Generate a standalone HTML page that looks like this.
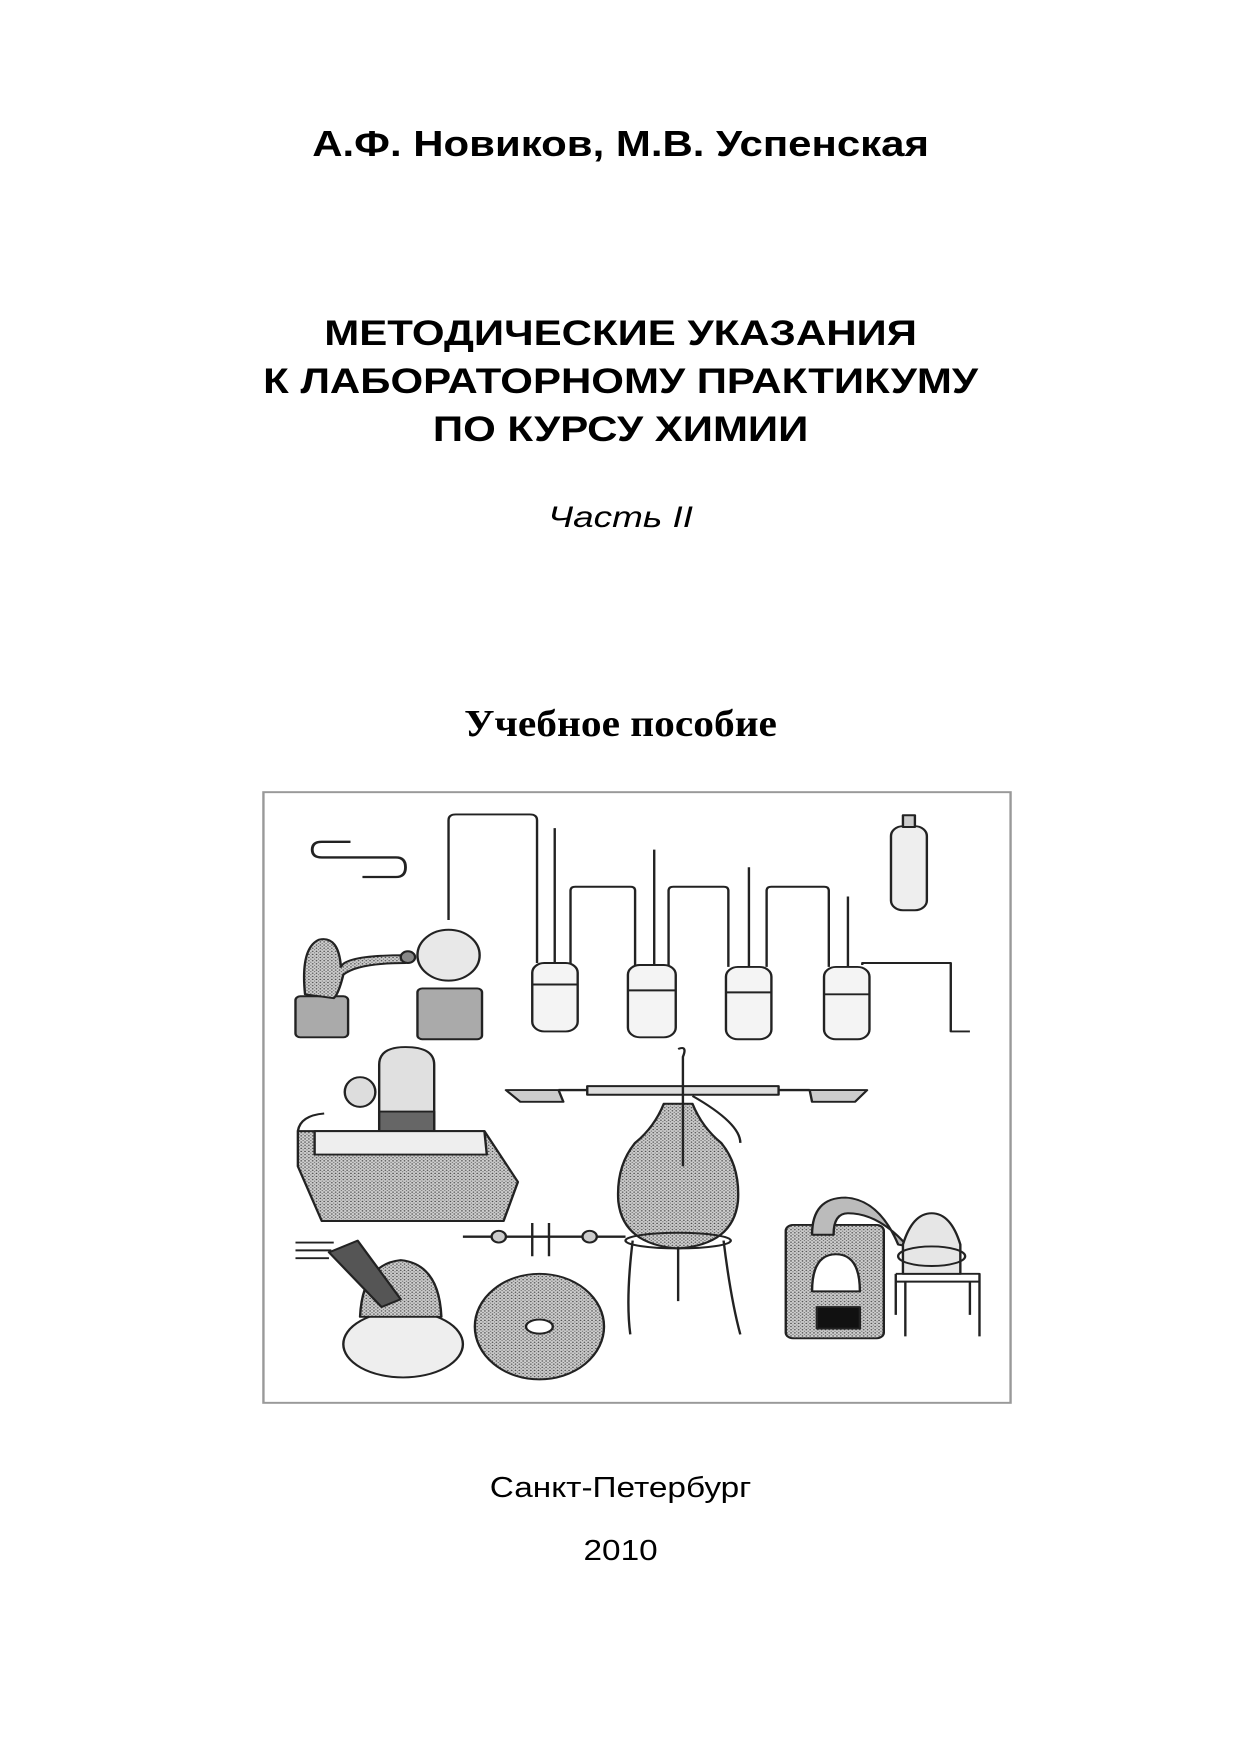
<!DOCTYPE html>
<html><head><meta charset="utf-8"><style>
body{margin:0;background:#fff;}
.p{position:relative;width:1241px;height:1755px;overflow:hidden;background:#fff;}
.t{position:absolute;left:0;width:1241px;text-align:center;color:#000;white-space:nowrap;transform-origin:620px 50%;}
.a{font-family:"Liberation Sans",sans-serif;font-weight:bold;}
</style></head><body><div class="p">
<div class="t a" style="top:122px;font-size:36px;line-height:44px;transform:scaleX(1.165);">А.Ф. Новиков, М.В. Успенская</div>
<div class="t a" style="top:310px;font-size:35px;line-height:48px;transform:scaleX(1.2);">МЕТОДИЧЕСКИЕ УКАЗАНИЯ<br>К ЛАБОРАТОРНОМУ ПРАКТИКУМУ<br>ПО КУРСУ ХИМИИ</div>
<div class="t" style="top:498px;font-family:'Liberation Sans',sans-serif;font-style:italic;font-size:30px;line-height:40px;transform:scaleX(1.23);">Часть II</div>
<div class="t" style="top:702px;font-family:'Liberation Serif',serif;font-weight:bold;font-size:38px;line-height:44px;transform:scaleX(1.09);">Учебное пособие</div>
<div class="t" style="top:1470px;font-family:'Liberation Sans',sans-serif;font-size:29px;line-height:36px;transform:scaleX(1.15);">Санкт-Петербург</div>
<div class="t" style="top:1533px;font-family:'Liberation Sans',sans-serif;font-size:29px;line-height:36px;transform:scaleX(1.15);">2010</div>
<svg style="position:absolute;left:262px;top:791px" width="750" height="613" viewBox="0 0 1568 1568" preserveAspectRatio="none">
<defs><pattern id="d" width="8" height="8" patternUnits="userSpaceOnUse"><rect width="8" height="8" fill="#cfcfcf"/><circle cx="2" cy="2" r="1.8" fill="#444"/><circle cx="6" cy="6" r="1.4" fill="#666"/></pattern></defs>
<rect x="3" y="3" width="1562" height="1562" fill="#fff" stroke="#999" stroke-width="5"/>
<g fill="none" stroke="#222" stroke-width="5" vector-effect="non-scaling-stroke" stroke-linejoin="round">
<path d="M185,130 H125 Q105,130 105,150 Q105,170 125,170 H280 Q300,170 300,195 Q300,220 280,220 H210" style="stroke-width:6px"/>
<path d="M390,330 V75 Q390,60 405,60 H560 Q575,60 575,75 V440"/>
<path d="M612,95 V600 M820,150 V600 M1018,195 V610 M1225,270 V610"/>
<path d="M645,445 V255 Q645,245 655,245 H770 Q780,245 780,255 V450"/>
<path d="M850,450 V255 Q850,245 860,245 H965 Q975,245 975,255 V450"/>
<path d="M1055,450 V255 Q1055,245 1065,245 H1175 Q1185,245 1185,255 V450"/>
<path d="M1255,445 V440 H1440 V615 H1480"/>
<g fill="#f4f4f4">
<rect x="565" y="440" width="95" height="175" rx="25"/>
<rect x="765" y="445" width="100" height="185" rx="25"/>
<rect x="970" y="450" width="95" height="185" rx="25"/>
<rect x="1175" y="450" width="95" height="185" rx="25"/>
</g>
<path d="M565,495 H660 M765,510 H865 M970,515 H1065 M1175,520 H1270"/>
<rect x="1315" y="90" width="75" height="215" rx="25" fill="#eee"/>
<rect x="1340" y="62" width="25" height="30" fill="#ccc"/>
<rect x="70" y="525" width="110" height="105" rx="10" fill="#aaa"/>
<path d="M90,520 Q80,400 120,380 Q160,370 165,450 Q175,420 300,420 L300,440 Q200,440 170,470 Q160,520 150,530 Z" fill="url(#d)"/>
<rect x="325" y="505" width="135" height="130" rx="10" fill="#aaa"/>
<circle cx="390" cy="420" r="65" fill="#e8e8e8"/>
<circle cx="305" cy="425" r="15" fill="#888"/>
<path d="M245,900 V700 Q245,655 300,655 Q360,655 360,700 V900 Z" fill="#e0e0e0"/>
<path d="M245,820 H360 V900 H245 Z" fill="#666"/>
<path d="M75,870 H465 L535,1000 L505,1100 H125 L75,960 Z" fill="url(#d)"/>
<path d="M110,870 H465 L470,930 H110 Z" fill="#eee"/>
<ellipse cx="205" cy="770" rx="32" ry="38" fill="#ddd"/>
<path d="M75,870 Q80,830 130,825"/>
<path d="M510,765 H620 L630,795 H540 Z M1145,765 H1265 L1240,795 H1150 Z" fill="#ccc"/>
<path d="M620,765 H1145" style="stroke-width:6px"/>
<rect x="680" y="755" width="400" height="22" fill="#ddd"/>
<path d="M840,800 H900 Q920,860 960,900 Q1000,960 995,1050 Q985,1160 870,1170 Q755,1160 745,1050 Q740,960 780,900 Q820,860 840,800 Z" fill="url(#d)"/>
<path d="M870,660 Q890,650 880,680 V960 M900,780 Q1000,850 1000,900"/>
<ellipse cx="870" cy="1150" rx="110" ry="20"/>
<path d="M775,1150 Q760,1300 770,1390 M870,1165 V1305 M965,1150 Q980,1300 1000,1390"/>
<path d="M420,1140 H760" style="stroke-width:6px"/>
<circle cx="495" cy="1140" r="15" fill="#ccc"/><circle cx="685" cy="1140" r="15" fill="#ccc"/>
<path d="M565,1105 V1190 M600,1105 V1190"/>
<circle cx="580" cy="1370" r="135" fill="url(#d)"/>
<ellipse cx="580" cy="1370" rx="28" ry="18" fill="#fff"/>
<ellipse cx="295" cy="1415" rx="125" ry="85" fill="#eee"/>
<path d="M205,1345 Q210,1210 290,1200 Q370,1210 375,1345 Z" fill="url(#d)"/>
<path d="M140,1180 L200,1150 L290,1300 L250,1320 Z" fill="#555"/>
<path d="M70,1155 H150 M70,1175 H145 M70,1195 H140"/>
<rect x="1095" y="1110" width="205" height="290" rx="15" fill="url(#d)"/>
<path d="M1150,1280 Q1150,1185 1200,1185 Q1250,1185 1250,1280 Z" fill="#fff"/>
<rect x="1160" y="1320" width="90" height="55" fill="#111"/>
<path d="M1150,1135 Q1150,1040 1220,1040 Q1290,1045 1330,1160 L1350,1165 Q1290,1080 1225,1080 Q1195,1080 1195,1135 Z" fill="#bbb"/>
<path d="M1325,1235 H1500 V1395 M1325,1235 V1340 M1345,1255 V1395 M1480,1255 V1340 M1325,1255 H1500"/>
<path d="M1340,1235 V1160 Q1360,1080 1400,1080 Q1440,1080 1460,1160 V1235 Z" fill="#e6e6e6"/>
<ellipse cx="1400" cy="1190" rx="70" ry="25"/>
</g>
</svg>
</div></body></html>
